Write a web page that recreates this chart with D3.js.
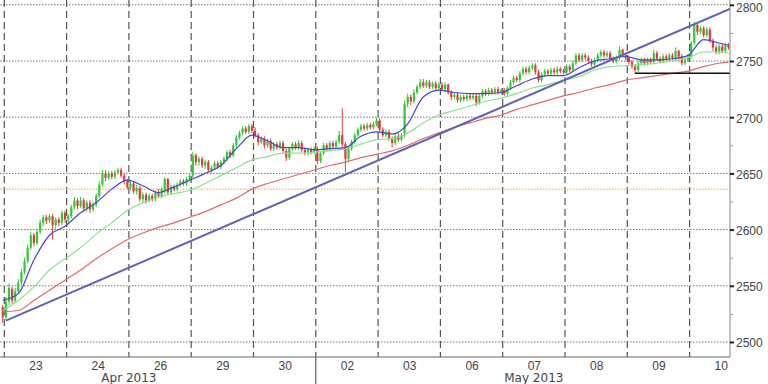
<!DOCTYPE html>
<html>
<head>
<meta charset="utf-8">
<script src="https://cdn.jsdelivr.net/npm/d3@7"></script>
<style>
  html, body { margin: 0; padding: 0; background: #fff; }
  svg { display: block; font-family: "DejaVu Sans", Verdana, sans-serif; }
</style>
</head>
<body>
<div id="chart"></div>
<script>
// sessions shown on the axis (first bar is the tail of 22 Apr)
var sessionLabels = ['23', '24', '26', '29', '30', '02', '03', '06', '07', '08', '09', '10'];
var sessionBars = [20, 20, 20, 20, 20, 20, 20, 20, 20, 20, 20, 13];
var leadBars = 1;
var monthLabels = ['Apr 2013', 'May 2013'];
var monthStartSession = 5; // '02' opens May

// price ticks on the right
var priceTicks = [2500, 2550, 2600, 2650, 2700, 2750, 2800];
var minorTicks = [2525, 2575, 2625, 2675, 2725, 2775];

// candles, one line per session
var opens = [
  2531,
  2522,2536,2547,2537,2545,2553,2562,2572,2584,2595,2588,2598,2606,2611,2608,2612,2604,2609,2606,2615,
  2609,2612,2620,2626,2621,2626,2619,2624,2618,2622,2630,2640,2650,2646,2650,2647,2651,2653,2648,2643,
  2638,2641,2634,2637,2627,2631,2626,2630,2627,2633,2630,2634,2645,2633,2638,2636,2640,2643,2641,2645,
  2648,2666,2660,2663,2657,2660,2653,2655,2659,2656,2660,2663,2669,2666,2675,2682,2686,2690,2687,2692,
  2688,2684,2678,2681,2675,2679,2672,2676,2673,2677,2670,2664,2672,2676,2673,2677,2671,2668,2671,2669,
  2672,2661,2668,2675,2672,2677,2674,2678,2684,2676,2663,2672,2678,2684,2689,2692,2690,2693,2691,2694,
  2697,2689,2684,2687,2681,2677,2683,2680,2684,2712,2718,2714,2722,2727,2731,2728,2731,2727,2730,2726,
  2729,2725,2729,2722,2718,2720,2715,2718,2716,2719,2717,2719,2713,2719,2723,2721,2724,2722,2725,2722,
  2724,2721,2726,2731,2735,2733,2739,2743,2740,2744,2746,2740,2733,2738,2741,2739,2742,2740,2743,2741,
  2740,2745,2742,2748,2755,2751,2755,2753,2750,2747,2751,2755,2758,2755,2757,2752,2750,2753,2760,2755,
  2753,2749,2745,2742,2748,2751,2748,2751,2749,2757,2752,2750,2754,2752,2755,2753,2759,2754,2748,2751,
  2754,2766,2782,2776,2779,2773,2778,2768,2762,2758,2763,2759,2764
];
var highs = [
  2533,
  2540,2552,2549,2548,2556,2565,2575,2587,2598,2597,2601,2609,2613,2613,2614,2614,2611,2611,2617,2617,
  2614,2622,2629,2628,2629,2628,2626,2626,2625,2632,2643,2653,2653,2652,2652,2653,2655,2655,2650,2645,
  2643,2643,2640,2639,2633,2633,2632,2632,2635,2636,2638,2647,2646,2640,2640,2642,2645,2645,2647,2650,
  2669,2668,2665,2665,2662,2662,2657,2661,2661,2662,2665,2671,2671,2677,2684,2688,2692,2692,2694,2694,
  2691,2686,2683,2683,2681,2681,2678,2678,2679,2679,2672,2674,2678,2678,2680,2679,2673,2673,2673,2674,
  2674,2670,2677,2677,2679,2679,2680,2688,2708,2678,2674,2680,2686,2691,2694,2694,2695,2695,2696,2700,
  2699,2691,2689,2689,2683,2686,2686,2686,2715,2721,2720,2725,2729,2734,2734,2733,2733,2732,2732,2731,
  2731,2731,2730,2724,2722,2722,2720,2720,2721,2721,2721,2721,2721,2725,2725,2726,2726,2727,2727,2726,
  2726,2728,2733,2737,2737,2741,2745,2745,2746,2748,2748,2742,2740,2743,2743,2744,2744,2745,2745,2743,
  2747,2747,2750,2757,2757,2757,2757,2755,2752,2753,2757,2760,2760,2759,2759,2754,2755,2763,2761,2757,
  2755,2751,2747,2750,2753,2753,2753,2753,2760,2759,2754,2756,2756,2757,2757,2762,2760,2756,2753,2756,
  2768,2785,2784,2781,2781,2780,2780,2770,2764,2765,2765,2766,2766
];
var lows = [
  2517,
  2520,2533,2534,2535,2543,2551,2560,2570,2582,2585,2586,2596,2603,2605,2606,2591,2600,2603,2604,2606,
  2606,2610,2618,2618,2619,2616,2616,2615,2616,2620,2628,2638,2643,2644,2645,2645,2649,2646,2640,2636,
  2635,2632,2631,2625,2624,2623,2624,2625,2625,2628,2628,2632,2631,2631,2634,2634,2638,2639,2639,2643,
  2646,2657,2657,2655,2654,2651,2650,2653,2654,2654,2658,2661,2664,2664,2673,2680,2684,2685,2685,2686,
  2682,2675,2676,2672,2673,2670,2670,2671,2671,2668,2661,2662,2670,2671,2671,2669,2666,2666,2667,2667,
  2658,2659,2666,2670,2670,2672,2672,2676,2673,2651,2660,2670,2676,2682,2687,2688,2688,2689,2689,2692,
  2687,2682,2682,2679,2673,2675,2678,2678,2682,2709,2711,2712,2720,2725,2726,2726,2725,2725,2724,2724,
  2723,2722,2720,2715,2716,2713,2713,2714,2714,2715,2715,2710,2711,2717,2719,2719,2720,2720,2720,2720,
  2719,2719,2724,2729,2731,2731,2737,2738,2738,2742,2738,2731,2731,2736,2737,2737,2738,2738,2739,2738,
  2738,2740,2740,2746,2749,2749,2751,2748,2745,2745,2749,2753,2753,2753,2750,2748,2748,2751,2753,2751,
  2747,2743,2739,2740,2746,2746,2746,2747,2747,2750,2748,2748,2750,2750,2751,2751,2752,2746,2746,2749,
  2752,2764,2773,2774,2771,2771,2766,2759,2756,2756,2757,2757,2760
];
var closes = [
  2522,
  2536,2548,2537,2545,2553,2562,2572,2584,2595,2588,2598,2606,2611,2608,2612,2604,2609,2606,2615,2609,
  2612,2620,2626,2621,2626,2619,2624,2618,2622,2630,2640,2650,2646,2650,2647,2651,2653,2648,2643,2638,
  2641,2634,2637,2627,2631,2626,2630,2627,2633,2630,2636,2645,2633,2638,2636,2640,2643,2641,2645,2648,
  2666,2660,2663,2657,2660,2653,2655,2659,2656,2660,2663,2669,2666,2675,2682,2686,2690,2687,2692,2688,
  2684,2678,2681,2675,2679,2672,2676,2673,2677,2670,2664,2672,2676,2673,2677,2671,2668,2671,2669,2672,
  2661,2668,2675,2672,2677,2674,2678,2684,2676,2663,2672,2678,2684,2689,2692,2690,2693,2691,2694,2697,
  2689,2684,2687,2681,2677,2683,2680,2684,2712,2718,2714,2722,2727,2731,2728,2731,2727,2730,2726,2729,
  2725,2729,2722,2718,2720,2715,2718,2716,2719,2717,2719,2713,2719,2723,2721,2724,2722,2725,2722,2724,
  2721,2726,2731,2735,2733,2739,2743,2740,2744,2746,2740,2733,2738,2741,2739,2742,2740,2743,2741,2740,
  2745,2742,2748,2755,2751,2755,2753,2750,2747,2751,2755,2758,2755,2757,2752,2750,2753,2760,2755,2753,
  2749,2745,2742,2748,2751,2748,2751,2749,2757,2752,2750,2754,2752,2755,2753,2759,2754,2748,2751,2754,
  2766,2782,2776,2779,2773,2778,2768,2762,2758,2763,2759,2764,2762
];

// moving averages at these bars
var maBars = [0, 5, 10, 15, 20, 25, 30, 35, 40, 45, 50, 55, 60, 65, 70, 75, 80, 85, 90, 95,
  100, 105, 110, 115, 120, 125, 130, 135, 140, 145, 150, 155, 160, 165, 170, 175, 180, 185, 190, 195,
  200, 205, 210, 215, 220, 225, 230, 233];
var maFast = [2537, 2543, 2573, 2595, 2603, 2615, 2624, 2636, 2644, 2639, 2633, 2638, 2644, 2650, 2657, 2672,
  2684, 2679, 2673, 2673, 2671, 2672, 2673, 2683, 2687, 2685, 2694, 2718, 2724, 2722, 2721, 2721,
  2722, 2728, 2734, 2737, 2737, 2744, 2750, 2752, 2754, 2751, 2751, 2752, 2755, 2769, 2766, 2764];
var maMid = [2528, 2537, 2549, 2564, 2574, 2584, 2596, 2606, 2617, 2624, 2629, 2632, 2635, 2641, 2648, 2655,
  2662, 2665, 2668, 2668, 2669, 2670, 2672, 2676, 2680, 2681, 2686, 2695, 2702, 2706, 2710, 2714,
  2717, 2721, 2726, 2729, 2733, 2736, 2742, 2745, 2746, 2747, 2748, 2750, 2753, 2758, 2758, 2757];
var maSlow = [2527, 2528, 2537, 2546, 2555, 2564, 2574, 2583, 2591, 2597, 2602, 2606, 2611, 2616, 2622, 2628,
  2636, 2641, 2645, 2649, 2653, 2657, 2660, 2664, 2667, 2670, 2675, 2681, 2686, 2691, 2695, 2699,
  2702, 2707, 2711, 2715, 2719, 2722, 2726, 2729, 2733, 2735, 2737, 2739, 2741, 2745, 2748, 2749];

// drawn lines
var trendBars = [1, 234];
var trendValues = [2519, 2797];
var supportBars = [203, 234];
var supportValue = 2739;
var levelValue = 2636;

var width = 768, height = 384;
var plotRight = 730, plotBottom = 357;

var x = d3.scaleLinear().domain([0.5, 220.5]).range([4.3, 689.6]);
var y = d3.scaleLinear().domain([2500, 2800]).range([342, 4.8]);

var svg = d3.select('#chart').append('svg')
  .attr('width', width)
  .attr('height', height);

svg.append('defs').append('clipPath').attr('id', 'plot')
  .append('rect').attr('x', 0).attr('y', 0).attr('width', plotRight).attr('height', plotBottom);

// session boundaries
var starts = [];
var acc = leadBars;
sessionBars.forEach(function (n) { starts.push(acc); acc += n; });

var grid = svg.append('g');
grid.selectAll('.hgrid')
  .data(priceTicks)
  .enter().append('line')
  .attr('x1', 0).attr('x2', plotRight)
  .attr('y1', function (d) { return y(d); })
  .attr('y2', function (d) { return y(d); })
  .attr('stroke', '#777')
  .attr('stroke-width', 1)
  .attr('stroke-dasharray', '1.5,1.5');

grid.selectAll('.vgrid')
  .data(starts)
  .enter().append('line')
  .attr('x1', function (d) { return x(d - 0.5); })
  .attr('x2', function (d) { return x(d - 0.5); })
  .attr('y1', 0).attr('y2', plotBottom)
  .attr('stroke', '#555')
  .attr('stroke-width', 1.2)
  .attr('stroke-dasharray', '7,4');

// orange level
svg.append('line')
  .attr('x1', 0).attr('x2', plotRight)
  .attr('y1', y(levelValue)).attr('y2', y(levelValue))
  .attr('stroke', '#f0a040')
  .attr('stroke-width', 1)
  .attr('stroke-dasharray', '1.5,1.5');

var plot = svg.append('g').attr('clip-path', 'url(#plot)');

// candles
var bars = d3.range(closes.length).map(function (i) {
  return { i: i, o: opens[i], h: highs[i], l: lows[i], c: closes[i] };
});
var upCol = '#33c933', downCol = '#e03c3c';

plot.selectAll('.wick')
  .data(bars)
  .enter().append('line')
  .attr('x1', function (d) { return x(d.i); })
  .attr('x2', function (d) { return x(d.i); })
  .attr('y1', function (d) { return y(d.h); })
  .attr('y2', function (d) { return y(d.l); })
  .attr('stroke', function (d) { return d.c >= d.o ? upCol : downCol; })
  .attr('stroke-width', 1);

plot.selectAll('.body')
  .data(bars)
  .enter().append('rect')
  .attr('x', function (d) { return x(d.i) - 1.1; })
  .attr('width', 2.2)
  .attr('y', function (d) { return y(Math.max(d.o, d.c)); })
  .attr('height', function (d) { return Math.max(1, Math.abs(y(d.o) - y(d.c))); })
  .attr('fill', function (d) { return d.c >= d.o ? upCol : downCol; });

// moving averages
function maLine(values) {
  return d3.line()
    .x(function (d, k) { return x(maBars[k]); })
    .y(function (d) { return y(d); })
    .curve(d3.curveMonotoneX)(values);
}
plot.append('path').attr('d', maLine(maSlow))
  .attr('fill', 'none').attr('stroke', '#e06a6a').attr('stroke-width', 1.2);
plot.append('path').attr('d', maLine(maMid))
  .attr('fill', 'none').attr('stroke', '#8ce28c').attr('stroke-width', 1.2);
plot.append('path').attr('d', maLine(maFast))
  .attr('fill', 'none').attr('stroke', '#4646cc').attr('stroke-width', 1.2);

// trend line and support
plot.append('line')
  .attr('x1', x(trendBars[0])).attr('y1', y(trendValues[0]))
  .attr('x2', x(trendBars[1])).attr('y2', y(trendValues[1]))
  .attr('stroke', '#6262b8').attr('stroke-width', 2);

plot.append('line')
  .attr('x1', x(supportBars[0])).attr('x2', x(supportBars[1]))
  .attr('y1', y(supportValue)).attr('y2', y(supportValue))
  .attr('stroke', '#111').attr('stroke-width', 1.5);

// axes frame
svg.append('line')
  .attr('x1', plotRight).attr('x2', plotRight).attr('y1', 0).attr('y2', plotBottom)
  .attr('stroke', '#888');
svg.append('line')
  .attr('x1', 0).attr('x2', plotRight).attr('y1', plotBottom).attr('y2', plotBottom)
  .attr('stroke', '#666');

// right axis
var yAxis = svg.append('g')
  .attr('transform', 'translate(' + plotRight + ',0)')
  .call(d3.axisRight(y).tickValues(priceTicks).tickSize(4).tickPadding(2).tickFormat(d3.format('d')));
yAxis.select('.domain').remove();
yAxis.selectAll('line').attr('stroke', '#222').attr('stroke-width', 2);
yAxis.selectAll('text').attr('fill', '#444').style('font-size', '12px')
  .attr('dy', function (d) { return d === 2800 ? '0.55em' : '0.4em'; });

svg.append('g')
  .attr('transform', 'translate(' + plotRight + ',0)')
  .call(d3.axisRight(y).tickValues(minorTicks).tickSize(3).tickFormat(''))
  .call(function (g) {
    g.select('.domain').remove();
    g.selectAll('line').attr('stroke', '#999');
  });

// day labels
var xAxis = svg.append('g')
  .attr('transform', 'translate(0,' + plotBottom + ')')
  .call(d3.axisBottom(x)
    .tickValues(starts.map(function (s) { return s - 0.5 + 10; }))
    .tickSize(0).tickPadding(4)
    .tickFormat(function (d, k) { return sessionLabels[k]; }));
xAxis.select('.domain').remove();
xAxis.selectAll('text').attr('fill', '#444').style('font-size', '12px');

// month separator and labels
var mayX = x(starts[monthStartSession] - 0.5);
svg.append('line')
  .attr('x1', mayX).attr('x2', mayX).attr('y1', plotBottom).attr('y2', height)
  .attr('stroke', '#444');

var monthAnchors = [x(starts[2] - 0.5), x(starts[8] - 0.5 + 10)];
svg.selectAll('.month')
  .data(monthLabels)
  .enter().append('text')
  .attr('x', function (d, k) { return monthAnchors[k]; })
  .attr('y', 382)
  .attr('text-anchor', 'middle')
  .attr('fill', '#444')
  .style('font-size', '12px')
  .text(function (d) { return d; });
</script>
</body>
</html>
